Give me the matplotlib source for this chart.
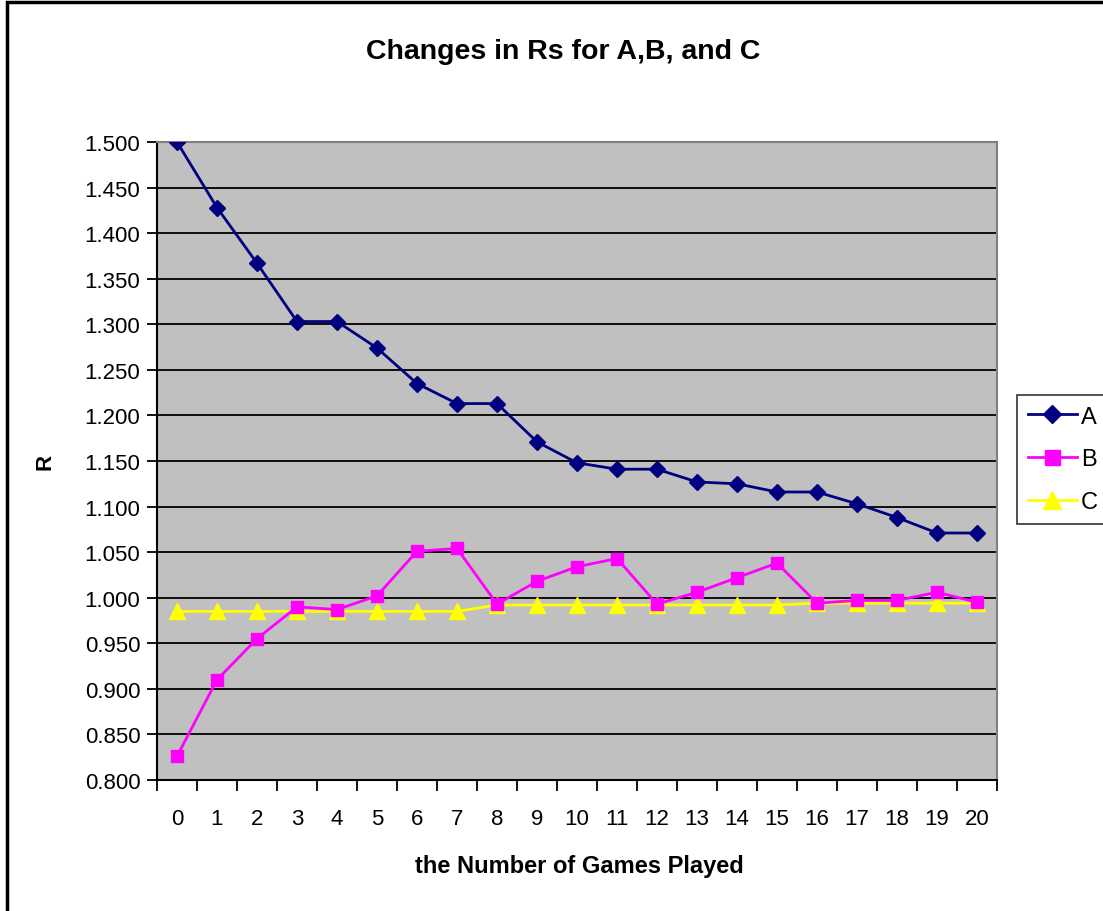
import matplotlib.pyplot as plt
import numpy as np
from matplotlib.patches import Rectangle

plt.rcParams['font.family'] = ['Liberation Sans', 'DejaVu Sans']

games = list(range(21))
r_a = [1.500, 1.428, 1.367, 1.303, 1.303, 1.274, 1.235, 1.213, 1.213, 1.171, 1.148,
       1.141, 1.141, 1.127, 1.125, 1.116, 1.116, 1.103, 1.088, 1.071, 1.071]
r_b = [0.826, 0.910, 0.955, 0.990, 0.987, 1.002, 1.051, 1.054, 0.993, 1.018, 1.034,
       1.043, 0.993, 1.006, 1.022, 1.038, 0.994, 0.997, 0.997, 1.006, 0.995]
r_c = [0.985, 0.985, 0.985, 0.985, 0.985, 0.985, 0.985, 0.985, 0.992, 0.992, 0.992,
       0.992, 0.992, 0.992, 0.992, 0.992, 0.994, 0.994, 0.994, 0.994, 0.994]
yticks = np.arange(0.80, 1.5001, 0.05)

W, H = 1103, 912
fig = plt.figure(figsize=(W / 100, H / 100), dpi=100)
ax = fig.add_axes([157 / W, 1 - 781 / H, (997 - 157) / W, (781 - 143) / H])
ax.set_facecolor('#c0c0c0')

ax.plot(games, r_a, color='#000080', lw=2, marker='D', ms=8, label='A', zorder=5)
ax.plot(games, r_b, color='#ff00ff', lw=2, marker='s', ms=9, label='B', zorder=4)
ax.plot(games, r_c, color='#ffff00', lw=2, marker='^', ms=11, label='C', zorder=3)

ax.set_xlim(-0.5, 20.5)
ax.set_ylim(0.8, 1.5)
ax.set_yticks(yticks)
ax.set_yticklabels(['%.3f' % v for v in yticks])
ax.yaxis.grid(True, color='black', lw=1.3)
ax.set_axisbelow(True)

ax.set_xticks(games)
ax.set_xticks(np.arange(-0.5, 21, 1), minor=True)
ax.tick_params(axis='x', which='major', length=0, pad=20, labelsize=16)
ax.tick_params(axis='x', which='minor', length=8, width=1.3, color='black')
ax.tick_params(axis='y', length=7, width=1.3, labelsize=16, pad=5)

for s in ['left', 'bottom']:
    ax.spines[s].set_color('black')
    ax.spines[s].set_linewidth(1.5)
for s in ['top', 'right']:
    ax.spines[s].set_color('#808080')
    ax.spines[s].set_linewidth(1.5)

fig.text(563 / W, 1 - 52 / H, 'Changes in Rs for A,B, and C', ha='center', va='center',
         fontsize=20.5, fontweight='bold')
fig.text(579 / W, 1 - 867 / H, 'the Number of Games Played', ha='center', va='center',
         fontsize=17, fontweight='bold')
fig.text(45 / W, 1 - 462 / H, 'R', ha='center', va='center', rotation=90,
         fontsize=16, fontweight='bold')

leg = fig.legend(loc='upper left', bbox_to_anchor=(1017 / W, 1 - 396 / H), frameon=True,
                 fontsize=17, fancybox=False, edgecolor='black', handlelength=2.1,
                 handletextpad=0.15, borderpad=0.45, labelspacing=0.88, borderaxespad=0,
                 markerscale=1.2)
leg.get_frame().set_linewidth(1.2)

fig.patches.append(Rectangle((7 / W, -0.1), 1.2, 1 - 3 / H + 0.1, transform=fig.transFigure,
                             fill=False, edgecolor='black', lw=2.5))

fig.savefig('out.png', dpi=100)
